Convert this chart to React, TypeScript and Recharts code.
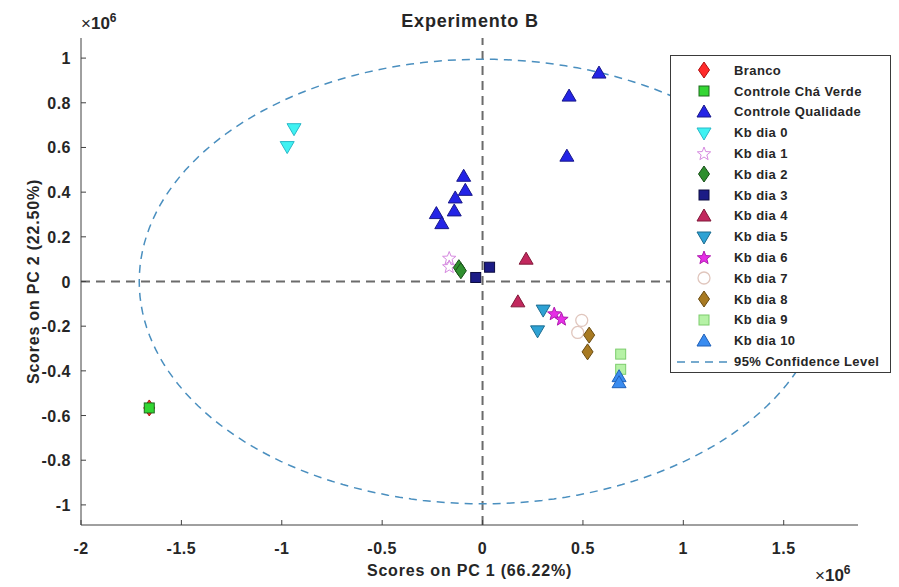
import React from 'react';
import { ScatterChart, Scatter, XAxis, YAxis, ReferenceLine, Legend, Label } from 'recharts';

// Scores (unidade: x10^6)
const branco = [{ x: -1.66, y: -0.566 }];
const controleChaVerde = [{ x: -1.66, y: -0.566 }];
const controleQualidade = [
  { x: 0.58, y: 0.933 },
  { x: 0.431, y: 0.83 },
  { x: 0.42, y: 0.561 },
  { x: -0.094, y: 0.471 },
  { x: -0.086, y: 0.408 },
  { x: -0.136, y: 0.374 },
  { x: -0.141, y: 0.316 },
  { x: -0.23, y: 0.304 },
  { x: -0.203, y: 0.259 },
];
const kbDia0 = [{ x: -0.939, y: 0.684 }, { x: -0.973, y: 0.604 }];
const kbDia1 = [{ x: -0.166, y: 0.103 }, { x: -0.166, y: 0.065 }];
const kbDia2 = [{ x: -0.118, y: 0.062 }, { x: -0.108, y: 0.048 }];
const kbDia3 = [{ x: -0.034, y: 0.018 }, { x: 0.035, y: 0.064 }];
const kbDia4 = [{ x: 0.217, y: 0.1 }, { x: 0.176, y: -0.091 }];
const kbDia5 = [{ x: 0.302, y: -0.128 }, { x: 0.274, y: -0.221 }];
const kbDia6 = [{ x: 0.357, y: -0.146 }, { x: 0.393, y: -0.17 }];
const kbDia7 = [{ x: 0.494, y: -0.174 }, { x: 0.474, y: -0.228 }];
const kbDia8 = [{ x: 0.531, y: -0.24 }, { x: 0.523, y: -0.315 }];
const kbDia9 = [{ x: 0.688, y: -0.325 }, { x: 0.688, y: -0.393 }];
const kbDia10 = [{ x: 0.68, y: -0.426 }, { x: 0.68, y: -0.453 }];

const xTicks = [-2, -1.5, -1, -0.5, 0, 0.5, 1, 1.5];
const yTicks = [-1, -0.8, -0.6, -0.4, -0.2, 0, 0.2, 0.4, 0.6, 0.8, 1];
const xDomain = [-2, 1.87];
const yDomain = [-1.09, 1.09];

// elipse de confiança 95%
const ellipseRx = 1.71;
const ellipseRy = 0.995;
const ellipse = Array.from({ length: 181 }, (_, i) => {
  const t = (i / 180) * 2 * Math.PI;
  return { x: ellipseRx * Math.cos(t), y: ellipseRy * Math.sin(t) };
});

const FONT = '"Liberation Sans", Arial, sans-serif';
const ELLIPSE_COLOR = '#4a8fbf';

type Kind = 'diamond' | 'square' | 'triangle' | 'down' | 'star' | 'circle';

interface SeriesDef {
  name: string;
  data: { x: number; y: number }[];
  kind: Kind;
  fill: string;
  stroke: string;
}

const series: SeriesDef[] = [
  { name: 'Branco', data: branco, kind: 'diamond', fill: '#ff2a2a', stroke: '#b01010' },
  { name: 'Controle Chá Verde', data: controleChaVerde, kind: 'square', fill: '#33d633', stroke: '#1f6a1f' },
  { name: 'Controle Qualidade', data: controleQualidade, kind: 'triangle', fill: '#2424e6', stroke: '#18188a' },
  { name: 'Kb dia 0', data: kbDia0, kind: 'down', fill: '#3ff2f2', stroke: '#2bb8c8' },
  { name: 'Kb dia 1', data: kbDia1, kind: 'star', fill: 'none', stroke: '#d68ae0' },
  { name: 'Kb dia 2', data: kbDia2, kind: 'diamond', fill: '#2f8f2f', stroke: '#1a4f1a' },
  { name: 'Kb dia 3', data: kbDia3, kind: 'square', fill: '#1c1c86', stroke: '#0c0c40' },
  { name: 'Kb dia 4', data: kbDia4, kind: 'triangle', fill: '#c2285e', stroke: '#801838' },
  { name: 'Kb dia 5', data: kbDia5, kind: 'down', fill: '#2ea2d4', stroke: '#1c6c90' },
  { name: 'Kb dia 6', data: kbDia6, kind: 'star', fill: '#e62ee6', stroke: '#b01cb0' },
  { name: 'Kb dia 7', data: kbDia7, kind: 'circle', fill: 'none', stroke: '#e0c6bd' },
  { name: 'Kb dia 8', data: kbDia8, kind: 'diamond', fill: '#a87a22', stroke: '#6a4c12' },
  { name: 'Kb dia 9', data: kbDia9, kind: 'square', fill: '#b6f2a6', stroke: '#7ccc6c' },
  { name: 'Kb dia 10', data: kbDia10, kind: 'triangle', fill: '#3a8cf0', stroke: '#2060b8' },
];

const Marker = ({ kind, cx, cy, fill, stroke }: { kind: Kind; cx: number; cy: number; fill: string; stroke: string }) => {
  const common = { fill, stroke, strokeWidth: 1 };
  switch (kind) {
    case 'diamond':
      return <polygon points={`${cx},${cy - 8} ${cx + 5.5},${cy} ${cx},${cy + 8} ${cx - 5.5},${cy}`} {...common} />;
    case 'square':
      return <rect x={cx - 5} y={cy - 5} width={10} height={10} {...common} />;
    case 'triangle':
      return <polygon points={`${cx},${cy - 7} ${cx + 7},${cy + 5} ${cx - 7},${cy + 5}`} {...common} />;
    case 'down':
      return <polygon points={`${cx},${cy + 7} ${cx + 7},${cy - 5} ${cx - 7},${cy - 5}`} {...common} />;
    case 'circle':
      return <circle cx={cx} cy={cy} r={6} fill="none" stroke={stroke} strokeWidth={1.3} />;
    case 'star': {
      const pts: string[] = [];
      for (let i = 0; i < 10; i++) {
        const r = i % 2 === 0 ? 7 : 3;
        const a = -Math.PI / 2 + (i * Math.PI) / 5;
        pts.push(`${cx + r * Math.cos(a)},${cy + r * Math.sin(a)}`);
      }
      return <polygon points={pts.join(' ')} {...common} />;
    }
  }
  return null;
};

const tickText = { fontFamily: FONT, fontSize: 16, fontWeight: 700, fill: '#262626', letterSpacing: 0.5 };
const titleStyle = { fontFamily: FONT, fontSize: 16, fontWeight: 700, fill: '#262626', letterSpacing: 0.8 };

const BottomTick = (props: any) => {
  const { x, y, payload } = props;
  return (
    <g>
      <line x1={x} y1={y} x2={x} y2={y - 5} stroke="#404040" />
      <text x={x} y={y + 29} textAnchor="middle" {...tickText}>{payload.value}</text>
    </g>
  );
};

const LeftTick = (props: any) => {
  const { x, y, payload } = props;
  return (
    <g>
      <line x1={x} y1={y} x2={x + 5} y2={y} stroke="#404040" />
      <text x={x - 10} y={y + 6} textAnchor="end" {...tickText}>{payload.value}</text>
    </g>
  );
};

const TopTick = (props: any) => {
  const { x, y } = props;
  return <line x1={x} y1={y} x2={x} y2={y + 5} stroke="#404040" />;
};

const RightTick = (props: any) => {
  const { x, y } = props;
  return <line x1={x} y1={y} x2={x - 5} y2={y} stroke="#404040" />;
};

const LegendBox = () => (
  <div
    style={{
      border: '1px solid #3a3a3a',
      background: '#fff',
      width: 221,
      height: 318,
      boxSizing: 'border-box',
      paddingTop: 4,
      fontFamily: FONT,
      fontSize: 13,
      fontWeight: 700,
      letterSpacing: 0.4,
      color: '#262626',
    }}
  >
    {series.map((s) => (
      <div key={s.name} style={{ display: 'flex', alignItems: 'center', height: 20.8 }}>
        <svg width={60} height={20} style={{ flex: 'none' }}>
          <Marker kind={s.kind} cx={33} cy={10} fill={s.fill} stroke={s.stroke} />
        </svg>
        <span style={{ marginLeft: 3 }}>{s.name}</span>
      </div>
    ))}
    <div style={{ display: 'flex', alignItems: 'center', height: 20.8 }}>
      <svg width={60} height={20} style={{ flex: 'none' }}>
        <line x1={6} y1={10} x2={60} y2={10} stroke={ELLIPSE_COLOR} strokeWidth={1.5} strokeDasharray="8 6" />
      </svg>
      <span style={{ marginLeft: 3 }}>95% Confidence Level</span>
    </div>
  </div>
);

const sci = (
  <span>
    ×<b>10</b>
    <sup style={{ fontSize: 12, fontWeight: 700 }}>6</sup>
  </span>
);

const App = () => {
  return (
    <div style={{ position: 'absolute', left: 0, top: 0, width: 899, height: 587, background: '#fff', fontFamily: FONT }}>
      <ScatterChart width={899} height={587} margin={{ top: 38, right: 41, bottom: 22, left: 21 }}>
        <XAxis
          xAxisId={0}
          type="number"
          dataKey="x"
          domain={xDomain}
          ticks={xTicks}
          allowDataOverflow
          height={40}
          tickSize={0}
          tickMargin={0}
          tick={BottomTick}
          axisLine={{ stroke: '#404040' }}
        >
          <Label value="Scores on PC 1 (66.22%)" position="bottom" offset={0} style={titleStyle} />
        </XAxis>
        <YAxis
          yAxisId={0}
          type="number"
          dataKey="y"
          domain={yDomain}
          ticks={yTicks}
          allowDataOverflow
          width={60}
          tickSize={0}
          tickMargin={0}
          tick={LeftTick}
          axisLine={{ stroke: '#404040' }}
        >
          <Label
            value="Scores on PC 2 (22.50%)"
            angle={-90}
            position="insideLeft"
            offset={12}
            style={{ ...titleStyle, textAnchor: 'middle' }}
          />
        </YAxis>
        <XAxis
          xAxisId="top"
          orientation="top"
          type="number"
          domain={xDomain}
          ticks={xTicks}
          allowDataOverflow
          height={0}
          tickSize={0}
          tickMargin={0}
          tick={TopTick}
          axisLine={{ stroke: '#404040' }}
        />
        <YAxis
          yAxisId="right"
          orientation="right"
          type="number"
          domain={yDomain}
          ticks={yTicks}
          allowDataOverflow
          width={0}
          tickSize={0}
          tickMargin={0}
          tick={RightTick}
          axisLine={{ stroke: '#404040' }}
        />
        <ReferenceLine x={0} stroke="#6b6b6b" strokeWidth={2} strokeDasharray="9 6" />
        <ReferenceLine y={0} stroke="#6b6b6b" strokeWidth={2} strokeDasharray="9 6" />
        <Scatter
          name="95% Confidence Level"
          data={ellipse}
          line={{ stroke: ELLIPSE_COLOR, strokeWidth: 1.5, strokeDasharray: '8 6' }}
          lineType="joint"
          shape={() => <g />}
          isAnimationActive={false}
        />
        {series.map((s) => (
          <Scatter
            key={s.name}
            name={s.name}
            data={s.data}
            isAnimationActive={false}
            shape={(p: any) => <Marker kind={s.kind} cx={p.cx} cy={p.cy} fill={s.fill} stroke={s.stroke} />}
          />
        ))}
        <Legend
          layout="vertical"
          align="center"
          verticalAlign="middle"
          wrapperStyle={{ left: 670, top: 55, width: 221, height: 318 }}
          content={() => <LegendBox />}
        />
      </ScatterChart>
      <div
        style={{
          position: 'absolute',
          left: 0,
          width: 940,
          top: 11,
          textAlign: 'center',
          fontSize: 18,
          fontWeight: 700,
          letterSpacing: 0.8,
          color: '#262626',
        }}
      >
        Experimento B
      </div>
      <div style={{ position: 'absolute', left: 81, top: 11, fontSize: 17, color: '#262626' }}>{sci}</div>
      <div style={{ position: 'absolute', left: 815, top: 563, fontSize: 17, color: '#262626' }}>{sci}</div>
    </div>
  );
};

export default App;
